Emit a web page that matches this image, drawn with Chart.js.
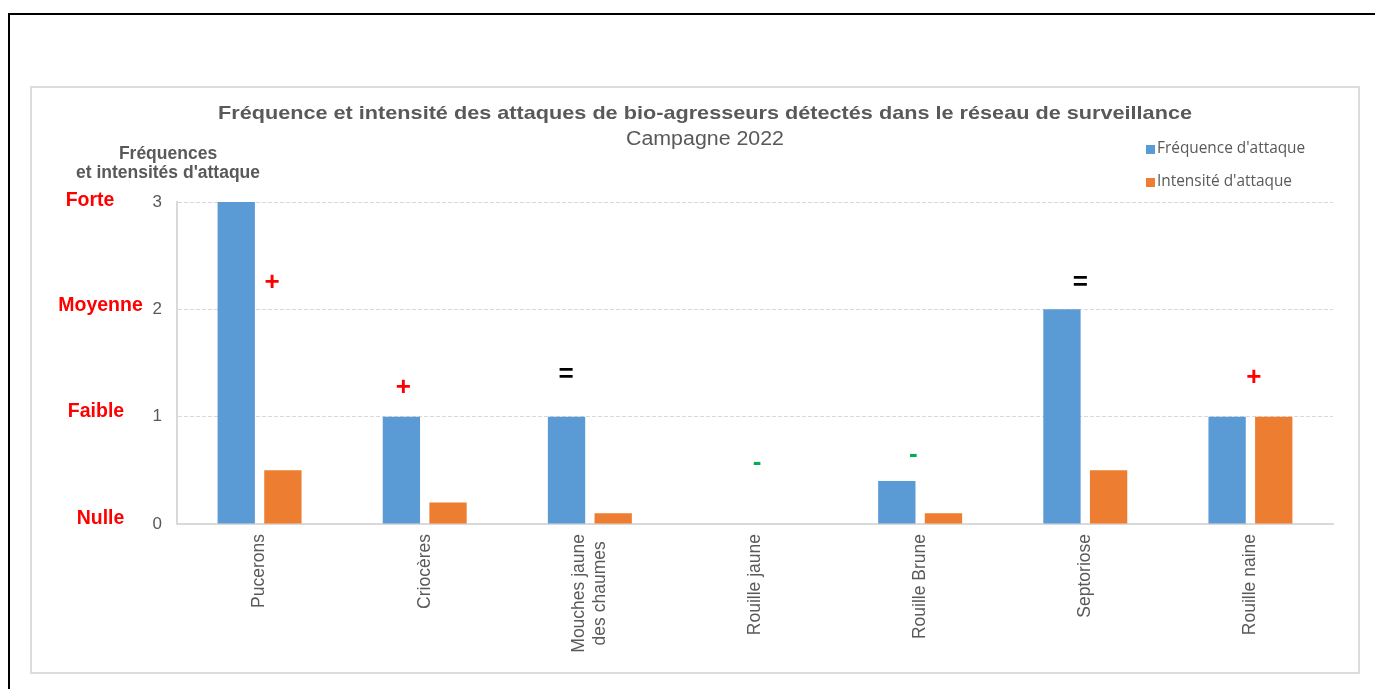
<!DOCTYPE html>
<html><head><meta charset="utf-8">
<script src="https://cdn.jsdelivr.net/npm/chart.js@4"></script>
<style>
html,body{margin:0;padding:0;background:#fff;overflow:hidden;width:1375px;height:689px}
#frame{position:absolute;left:8px;top:13px;width:1400px;height:700px;border-top:2px solid #000;border-left:2px solid #000}
#box{position:absolute;left:30px;top:86px;width:1326px;height:584px;border:2px solid #dcdcdc}
canvas{position:absolute;left:0;top:0}
</style></head><body>
<div id="frame"></div><div id="box"></div>
<canvas id="c" width="1375" height="689"></canvas>
<script>
// ---- data ----
const categories = ['Pucerons', 'Criocères', ['Mouches jaune', 'des chaumes'], 'Rouille jaune', 'Rouille Brune', 'Septoriose', 'Rouille naine'];
const frequence = [3, 1, 1, 0, 0.4, 2, 1];
const intensite = [0.5, 0.2, 0.1, 0, 0.1, 0.5, 1];
const seriesNames = ["Fréquence d'attaque", "Intensité d'attaque"];
const tendance = ['+', '+', '=', '-', '-', '=', '+'];
const tendanceNiveau = [2.25, 1.27, 1.39, 0.57, 0.64, 2.25, 1.36];
const yTickValues = [0, 1, 2, 3];
const niveauxLabels = ['Nulle', 'Faible', 'Moyenne', 'Forte'];
const titleText = 'Fréquence et intensité des attaques de bio-agresseurs détectés dans le réseau de surveillance';
const subtitleText = 'Campagne 2022';
const yTitleLines = ['Fréquences', "et intensités d'attaque"];

// ---- styles / placement ----
const BLUE = '#5b9bd5', ORANGE = '#ed7d31', GREY = '#595959';
const symbolColor = { '+': '#ff0000', '=': '#000000', '-': '#00b050' };
const symbolShift = [0.076, -0.13, -0.144, 0.012, -0.042, -0.03, 0.02];
const levelLabelPlace = [{ cx: 100.5, dy: -5 }, { cx: 96, dy: -5 }, { cx: 100.5, dy: -4 }, { cx: 90, dy: -1 }];
const FONT = '"Liberation Sans", Arial, sans-serif';
const XFONT_SIZE = 17.5;

function stretchedText(ctx, text, x, y, sx) {
  ctx.save();
  ctx.translate(x, y);
  ctx.scale(sx, 1);
  ctx.fillText(text, 0, 0);
  ctx.restore();
}

const overlay = {
  id: 'overlay',
  afterDraw(chart) {
    const ctx = chart.ctx, xs = chart.scales.x, ys = chart.scales.y;
    ctx.save();
    ctx.textBaseline = 'middle';
    // category labels (rotated, lines centred on each other)
    ctx.fillStyle = GREY;
    ctx.font = XFONT_SIZE + 'px ' + FONT;
    ctx.textAlign = 'center';
    const lh = XFONT_SIZE * 1.2;
    categories.forEach((c, i) => {
      const lines = Array.isArray(c) ? c : [c];
      const maxW = Math.max(...lines.map(l => ctx.measureText(l).width));
      const px = xs.getPixelForValue(i);
      const top = xs.top + 10;
      lines.forEach((l, j) => {
        ctx.save();
        ctx.translate(px + (j - (lines.length - 1) / 2) * lh, top + maxW / 2);
        ctx.rotate(-Math.PI / 2);
        ctx.fillText(l, 0, 0);
        ctx.restore();
      });
    });
    // titles
    ctx.font = 'bold 19px ' + FONT;
    const tw = ctx.measureText(titleText).width;
    stretchedText(ctx, titleText, 705, 114, 974 / tw);
    ctx.font = '20px ' + FONT;
    const sw = ctx.measureText(subtitleText).width;
    stretchedText(ctx, subtitleText, 705, 139, 158 / sw);
    // y axis title
    ctx.font = 'bold 17.5px ' + FONT;
    ctx.fillText(yTitleLines[0], 168, 154);
    ctx.fillText(yTitleLines[1], 168, 173);
    // level labels
    ctx.fillStyle = '#ff0000';
    ctx.font = 'bold 19.5px ' + FONT;
    yTickValues.forEach((v, i) => {
      const p = levelLabelPlace[i];
      ctx.fillText(niveauxLabels[i], p.cx, ys.getPixelForValue(v) + p.dy);
    });
    // trend symbols
    ctx.font = 'bold 26px ' + FONT;
    const cw = xs.getPixelForValue(1) - xs.getPixelForValue(0);
    tendance.forEach((s, i) => {
      ctx.fillStyle = symbolColor[s];
      const px = xs.getPixelForValue(i) + symbolShift[i] * cw;
      const py = ys.getPixelForValue(tendanceNiveau[i]);
      ctx.fillText(s, px, py);
    });
    // legend
    ctx.textAlign = 'left';
    ctx.font = '15.4px "Open Sans", sans-serif';
    [BLUE, ORANGE].forEach((c, i) => {
      const cy = 149 + i * 33;
      ctx.fillStyle = c;
      ctx.fillRect(1146, cy - 4, 9, 9);
      ctx.fillStyle = GREY;
      ctx.fillText(seriesNames[i], 1157, cy);
    });
    ctx.restore();
  }
};

new Chart(document.getElementById('c'), {
  type: 'bar',
  data: {
    labels: categories,
    datasets: [
      { label: seriesNames[0], data: frequence, backgroundColor: BLUE },
      { label: seriesNames[1], data: intensite, backgroundColor: ORANGE }
    ]
  },
  options: {
    responsive: false,
    animation: false,
    events: [],
    categoryPercentage: 0.565,
    barPercentage: 0.8,
    layout: { padding: { top: 202, right: 42, left: 0, bottom: 0 } },
    plugins: { legend: { display: false }, title: { display: false }, tooltip: { enabled: false } },
    scales: {
      x: {
        grid: { display: false, drawTicks: false },
        border: { display: true, color: '#d9d9d9', width: 2 },
        ticks: { display: false },
        afterFit(s) { s.height = 165; }
      },
      y: {
        min: 0, max: 3,
        afterBuildTicks(s) { s.ticks = yTickValues.map(v => ({ value: v })); },
        grid: { color: '#d9d9d9', lineWidth: 1, drawTicks: false },
        border: { display: true, color: '#d9d9d9', width: 2, dash: [4, 2] },
        ticks: { color: GREY, font: { family: FONT, size: 17 }, padding: 15 },
        afterFit(s) { s.width = 177; }
      }
    }
  },
  plugins: [overlay]
});
</script>
</body></html>
